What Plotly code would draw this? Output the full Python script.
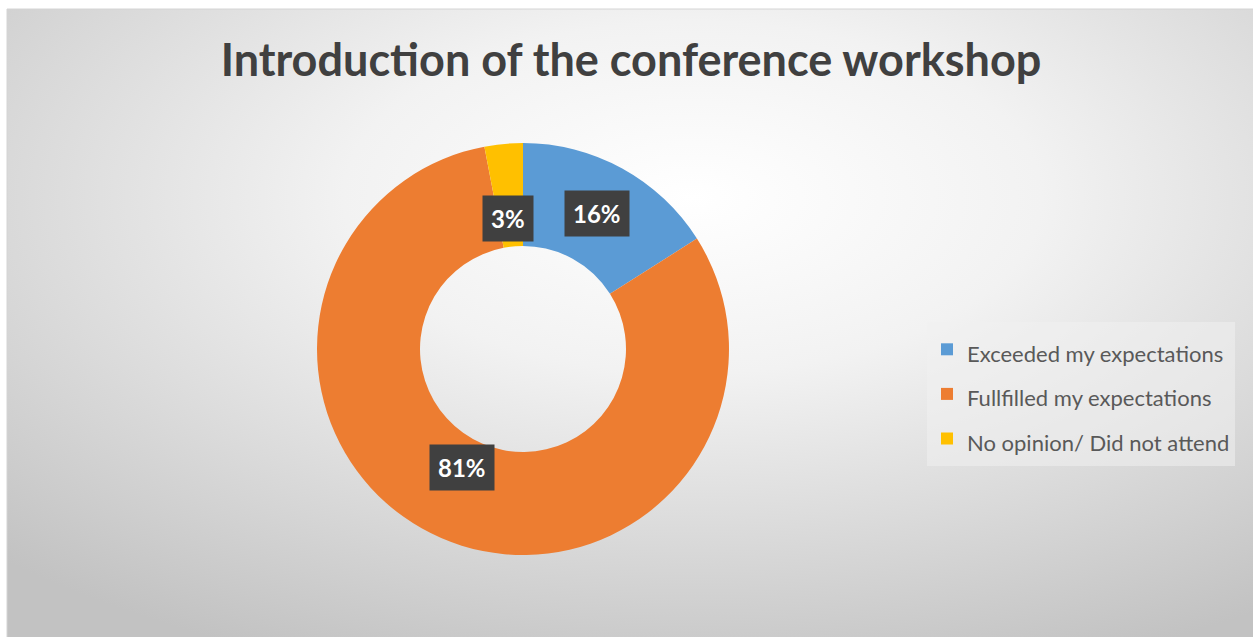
import base64, math
import plotly.graph_objects as go

categories = ["Exceeded my expectations", "Fullfilled my expectations", "No opinion/ Did not attend"]
values = [16, 81, 3]
colors = ["#5B9BD5", "#ED7D31", "#FFC000"]
title_text = "Introduction of the conference workshop"

W, H = 1253, 637
# pie placement (pixels)
cx_px, cy_px, r_px = 523, 349, 206
hole = 0.5
dom_x = [(cx_px - r_px) / W, (cx_px + r_px) / W]
dom_y = [(H - cy_px - r_px) / H, (H - cy_px + r_px) / H]

fig = go.Figure()
fig.add_trace(go.Pie(
    labels=[f"<span style='font-size:22px'>{c}</span>" for c in categories],
    values=values, hole=hole, sort=False,
    direction="clockwise", rotation=0,
    marker=dict(colors=colors, line=dict(width=0)),
    textinfo="none", hoverinfo="label+percent",
    domain=dict(x=dom_x, y=dom_y),
))

# background gradient
svg = ("<svg xmlns='http://www.w3.org/2000/svg' width='1246' height='628' preserveAspectRatio='none'>"
       "<defs><radialGradient id='g' cx='0.55' cy='0.3' r='0.8'>"
       "<stop offset='0' stop-color='#ffffff'/><stop offset='0.35' stop-color='#f2f2f2'/>"
       "<stop offset='1' stop-color='#c2c2c2'/></radialGradient></defs>"
       "<rect width='100%' height='100%' fill='url(#g)'/></svg>")
src = "data:image/svg+xml;base64," + base64.b64encode(svg.encode()).decode()
x0p, y0p = 7 / W, (H - 9) / H
fig.add_layout_image(dict(source=src, xref="paper", yref="paper", x=x0p, y=y0p,
                          sizex=1 - x0p, sizey=y0p, sizing="stretch",
                          xanchor="left", yanchor="top", layer="below"))
fig.add_shape(type="rect", xref="paper", yref="paper", x0=x0p, y0=-0.01, x1=1.01, y1=y0p,
              line=dict(color="#d4d4d4", width=1), layer="below")

# data labels
total = sum(values)
cum = 0
pcx = (dom_x[0] + dom_x[1]) / 2
pcy = (dom_y[0] + dom_y[1]) / 2
rmid = r_px * (1 + hole) / 2
for v in values:
    mid = (cum + v / 2) / total * 2 * math.pi
    cum += v
    ax = pcx + rmid * math.sin(mid) / W
    ay = pcy + rmid * math.cos(mid) / H
    txt = f"<b>{round(v / total * 100)}%</b>"
    fig.add_annotation(x=ax, y=ay, xref="paper", yref="paper", text=txt,
                       showarrow=False, font=dict(family="Lato", size=24, color="white"),
                       bgcolor="#404040", borderpad=8)

fig.update_layout(
    width=W, height=H,
    margin=dict(l=0, r=0, t=0, b=0),
    paper_bgcolor="white", plot_bgcolor="rgba(0,0,0,0)",
    title=dict(text=f"<b>{title_text}</b>", x=631 / W, xanchor="center",
               y=(H - 60) / H, yanchor="middle",
               font=dict(family="Lato", size=45, color="#404040")),
    showlegend=True,
    legend=dict(x=927 / W, xanchor="left", y=(H - 322) / H, yanchor="top",
                bgcolor="rgba(240,240,240,0.55)", borderwidth=0,
                font=dict(family="Lato", size=32, color="#595959"),
                itemsizing="constant"),
)
fig.write_html("out.html", config={"displayModeBar": False},
               post_script="document.body.style.margin='0';document.body.style.overflow='hidden';")
